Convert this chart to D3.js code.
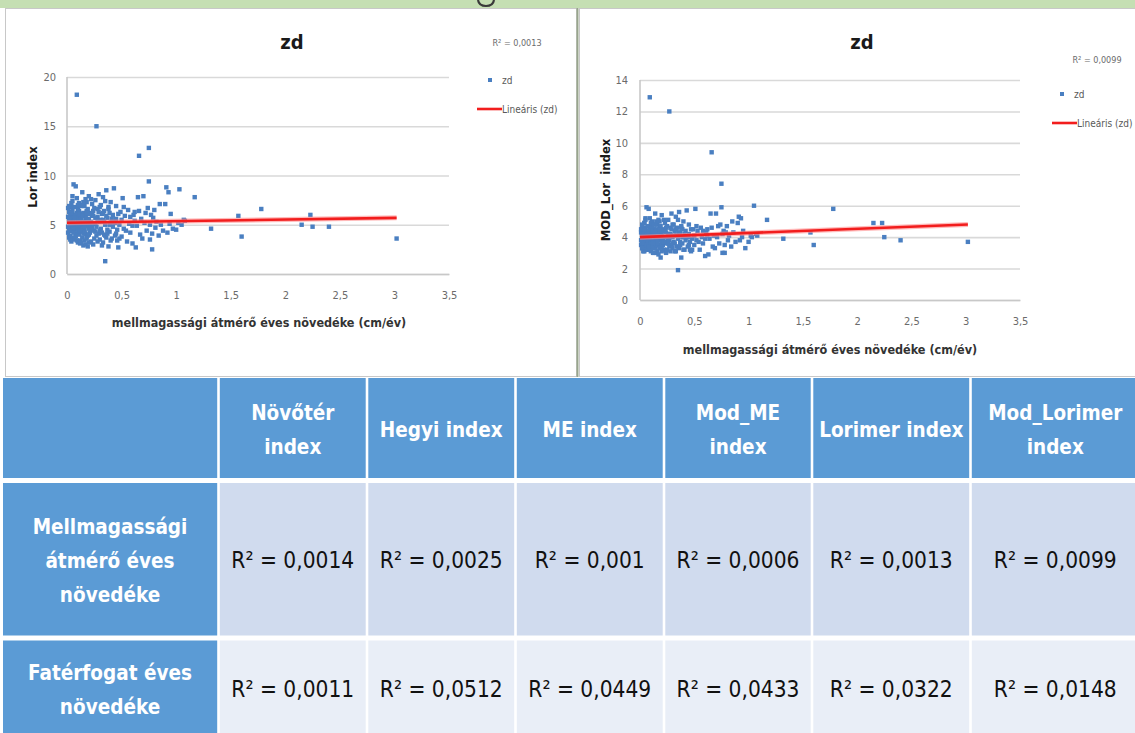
<!DOCTYPE html>
<html><head><meta charset="utf-8">
<script src="https://cdn.jsdelivr.net/npm/d3@7"></script>
<style>
html,body{margin:0;padding:0;background:#fff;overflow:hidden;}
svg{display:block;}
</style></head><body><svg id="c" width="1135" height="733"></svg>
<script>
// ---- scatter data (shared x: annual DBH increment, cm/yr) ----
const growth = [
 0.01,0.02,0.02,0.03,0.03,0.04,0.04,0.05,0.05,0.06,
 0.06,0.07,0.07,0.08,0.08,0.09,0.09,0.10,0.10,0.11,
 0.11,0.12,0.12,0.13,0.13,0.14,0.14,0.15,0.15,0.16,
 0.16,0.17,0.17,0.18,0.18,0.19,0.19,0.20,0.20,0.21,
 0.21,0.22,0.22,0.23,0.23,0.24,0.24,0.25,0.25,0.26,
 0.26,0.27,0.27,0.28,0.28,0.29,0.29,0.30,0.30,0.31,
 0.31,0.32,0.32,0.33,0.33,0.34,0.34,0.35,0.35,0.36,
 0.36,0.37,0.38,0.38,0.39,0.40,0.40,0.41,0.42,0.42,
 0.43,0.44,0.45,0.45,0.46,0.47,0.48,0.49,0.50,0.51,
 0.52,0.53,0.55,0.56,0.57,0.58,0.60,0.61,0.62,0.63,
 0.64,0.65,0.66,0.66,0.67,0.68,0.69,0.70,0.71,0.72,
 0.73,0.74,0.75,0.75,0.76,0.76,0.77,0.78,0.78,0.79,
 0.80,0.81,0.82,0.84,0.85,0.86,0.88,0.90,0.91,0.92,
 0.93,0.94,0.95,0.97,1.00,1.02,1.03,1.05,1.07,1.08,
 1.17,1.32,1.57,1.60,1.78,2.15,2.23,2.25,2.40,3.02,
 0.01,0.01,0.02,0.02,0.03,0.03,0.04,0.04,0.05,0.05,
 0.06,0.06,0.07,0.07,0.08,0.08,0.09,0.09,0.10,0.10,
 0.11,0.11,0.12,0.12,0.13,0.13,0.14,0.14,0.15,0.15,
 0.16,0.16,0.17,0.17,0.18,0.18,0.19,0.19,0.20,0.20,
 0.03,0.05,0.07,0.09,0.11,0.13,0.15,0.17,0.19,0.21,
 0.22,0.23,0.24,0.25,0.26,0.27,0.28,0.29,0.30,0.31,
 0.32,0.33,0.34,0.35,0.36,0.37,0.38,0.39,0.40,0.41,
 0.02,0.04,0.06,0.08,0.10,0.12,0.14,0.16,0.18,0.20,
 0.43,0.45,0.47,0.48,0.50,0.52,0.54,0.58,0.60,0.62,
 0.01,0.02,0.03,0.04,0.05,0.06,0.07,0.08,0.09,0.10,
 0.02,0.03,0.04,0.05,0.06,0.07,0.08,0.09,0.10,0.11,
 0.12,0.13,0.14,0.15,0.16,0.17,0.18,0.19,0.20,0.22,
 0.24,0.26,0.28,0.30,0.33,0.35,0.37,0.39,0.44,0.46
];
const lorIndex = [
 5.8,4.6,6.3,5.1,3.9,6.8,4.4,5.5,7.9,4.9,
 9.1,3.6,6.0,5.2,8.9,18.2,4.1,6.6,3.2,5.7,
 7.2,4.8,3.4,6.1,5.0,8.3,4.3,5.9,2.9,6.9,
 4.5,5.4,7.6,3.8,6.4,4.9,2.8,5.6,7.9,4.2,
 6.2,3.3,5.3,7.1,4.7,5.9,3.0,6.7,4.4,5.1,
 7.5,15.0,3.9,5.8,6.6,4.1,8.1,5.3,3.5,7.0,
 4.6,6.1,2.9,5.5,7.8,4.0,6.4,1.3,5.0,3.7,
 8.5,5.7,2.8,6.8,4.3,5.2,7.3,3.6,6.0,4.8,
 8.7,3.9,5.6,6.9,4.5,2.7,5.0,6.3,3.8,7.7,
 4.6,5.9,3.3,6.5,5.1,4.2,3.1,6.0,5.4,2.7,
 4.9,7.8,12.0,6.4,4.0,5.6,3.6,7.9,5.2,6.2,
 4.4,6.7,12.8,9.4,5.0,3.5,6.0,2.5,4.1,5.7,
 6.5,4.7,5.3,3.9,7.1,5.0,4.4,7.1,8.8,4.2,
 8.3,5.1,6.1,4.6,4.5,5.2,8.6,5.0,5.5,5.4,
 7.8,4.6,5.9,3.8,6.6,5.0,6.0,4.8,4.8,3.6,
 4.2,6.7,5.3,3.8,6.0,4.7,5.6,3.3,6.4,4.4,
 5.0,3.5,6.8,4.5,5.9,3.9,6.2,4.8,5.4,7.0,
 4.0,6.4,5.8,3.1,4.6,6.9,5.3,3.7,4.9,6.2,
 5.1,3.4,6.0,4.1,5.5,7.3,3.9,6.6,4.6,3.2,
 5.4,4.9,5.2,5.7,4.3,5.5,4.1,5.8,5.3,5.0,
 4.5,6.0,5.1,3.6,5.7,4.8,3.3,6.3,4.4,5.5,
 4.2,6.2,5.3,3.9,5.9,4.5,6.6,5.0,3.4,5.6,
 3.7,7.2,5.9,4.6,6.1,5.2,7.0,4.8,3.6,6.1,
 5.3,4.1,6.1,3.6,5.5,6.8,4.4,5.8,4.9,6.3,
 4.8,5.6,4.4,6.2,3.7,5.3,4.6,6.0,3.4,4.5,
 6.9,3.5,5.0,7.4,4.2,5.7,3.8,7.7,4.9,5.2,
 4.4,3.2,5.9,7.3,4.3,3.0,6.2,5.2,4.0,7.6,
 6.4,4.3,5.4,6.8,3.2,7.4,4.1,6.2,5.2,3.4
];
const modLorIndex = [
 4.3,3.7,4.6,4.0,3.4,4.9,3.6,4.1,5.2,3.8,
 5.9,3.2,4.4,3.9,5.8,12.9,3.5,4.7,3.1,4.2,
 5.0,3.8,3.3,4.5,3.9,5.5,3.6,4.3,3.0,4.8,
 3.7,4.0,5.1,3.4,4.6,3.8,2.7,4.2,5.4,3.5,
 4.5,3.2,4.0,4.9,3.7,4.3,3.0,4.7,3.6,3.9,
 5.1,12.0,3.4,4.2,4.6,3.5,5.5,4.0,3.3,4.8,
 3.7,4.4,3.1,4.1,5.3,3.4,4.6,1.9,3.9,3.3,
 5.6,4.3,2.7,4.7,3.6,4.0,5.0,3.2,4.4,3.8,
 5.7,3.4,4.2,4.8,3.7,3.1,3.9,4.5,3.5,5.8,
 3.8,4.4,3.2,4.6,4.0,3.6,2.8,4.3,4.1,2.9,
 3.9,5.5,9.4,4.6,3.4,4.1,3.3,5.5,4.0,4.7,
 3.6,4.8,7.4,5.9,4.2,3.0,4.4,3.0,3.5,4.3,
 4.7,3.8,4.1,3.4,5.0,4.3,3.7,4.9,5.3,3.8,
 5.2,4.0,4.4,3.3,3.7,4.1,4.0,6.0,4.2,4.1,
 5.1,3.9,4.3,3.5,5.8,4.9,4.9,4.0,3.8,3.7,
 3.5,4.5,4.0,3.3,4.3,3.7,4.1,3.1,4.6,3.6,
 3.9,3.2,4.7,3.6,4.2,3.4,4.5,3.8,4.0,4.9,
 3.4,4.6,4.3,3.0,3.7,4.8,4.0,3.3,3.8,4.5,
 3.9,3.1,4.4,3.5,4.1,5.0,3.4,4.7,3.7,3.1,
 4.1,3.8,4.0,4.3,3.6,4.2,3.5,4.3,4.0,3.9,
 3.7,4.4,4.0,3.2,4.2,3.8,3.1,4.5,3.6,4.1,
 3.6,4.5,4.1,3.4,4.3,3.7,4.6,4.0,3.2,4.2,
 3.3,4.9,4.4,3.7,4.4,4.1,4.8,3.8,3.3,4.4,
 4.0,3.5,4.5,3.2,4.1,4.7,3.7,4.4,3.9,4.5,
 3.8,4.2,3.6,4.5,3.3,4.0,3.7,4.4,3.2,3.6,
 4.8,3.1,3.9,5.1,3.5,4.2,3.4,5.2,3.9,4.0,
 3.6,3.0,4.3,5.0,3.6,2.9,4.5,4.0,3.4,5.1,
 4.6,3.6,4.1,4.8,3.1,5.1,3.5,4.5,4.0,3.2
];
// linear trend lines (Lineáris (zd))
const trendX = [0, 3.02];
const lorTrend = [5.2, 5.7];
const modLorTrend = [4.0, 4.8];
// ticks
const xTicks = [0, 0.5, 1, 1.5, 2, 2.5, 3, 3.5];
const lorTicks = [0, 5, 10, 15, 20];
const modLorTicks = [0, 2, 4, 6, 8, 10, 12, 14];
// table
const columnHeaders = [["Növőtér", "index"], ["Hegyi index"], ["ME index"], ["Mod_ME", "index"], ["Lorimer index"], ["Mod_Lorimer", "index"]];
const rowHeaders = [["Mellmagassági", "átmérő éves", "növedéke"], ["Fatérfogat éves", "növedéke"]];
const r2Diameter = ["0,0014", "0,0025", "0,001", "0,0006", "0,0013", "0,0099"];
const r2Volume = ["0,0011", "0,0512", "0,0449", "0,0433", "0,0322", "0,0148"];

const FONT = "'DejaVu Sans Condensed','Liberation Sans Narrow','DejaVu Sans',sans-serif";
const svg = d3.select("#c").attr("font-family", FONT).style("font-stretch", "condensed");
const fmt = d => String(d).replace(".", ",");

// background / frame
svg.append("rect").attr("x", 0).attr("y", 0).attr("width", 1135).attr("height", 733).attr("fill", "#fff");
svg.append("rect").attr("x", 0).attr("y", 0).attr("width", 1135).attr("height", 8).attr("fill", "#c5dfb3");
svg.append("path").attr("d", "M478,0 Q479,6 486,6 Q493,6 494,0").attr("fill", "none").attr("stroke", "#3a3a3a").attr("stroke-width", 2.2);
svg.append("rect").attr("x", 5.5).attr("y", 8.5).attr("width", 571).attr("height", 368).attr("fill", "#fff").attr("stroke", "#c8c8c8");
svg.append("rect").attr("x", 579.5).attr("y", 8.5).attr("width", 560).attr("height", 368).attr("fill", "#fff").attr("stroke", "#c8c8c8");
svg.append("line").attr("x1", 577.5).attr("x2", 577.5).attr("y1", 8).attr("y2", 377).attr("stroke", "#98a58c").attr("stroke-width", 2);

function drawChart(cfg) {
  const g = svg.append("g");
  const x = d3.scaleLinear().domain([0, 3.5]).range(cfg.xr);
  const y = d3.scaleLinear().domain([0, cfg.yMax]).range(cfg.yr);
  // gridlines
  g.append("g").attr("transform", `translate(${cfg.xr[0]},0)`)
    .call(d3.axisLeft(y).tickValues(cfg.yTicks).tickSize(-(cfg.xr[1] - cfg.xr[0])).tickFormat(""))
    .call(s => s.select(".domain").remove())
    .call(s => s.selectAll("line").attr("stroke", "#d9d9d9").attr("stroke-width", 1.6));
  // y axis line
  g.append("line").attr("x1", x(0)).attr("x2", x(0)).attr("y1", y(0)).attr("y2", y(cfg.yMax))
    .attr("stroke", "#c8c8c8").attr("stroke-width", 1.6);
  // y tick labels
  g.append("g").attr("transform", `translate(${cfg.xr[0]},0)`)
    .call(d3.axisLeft(y).tickValues(cfg.yTicks).tickSize(0).tickPadding(cfg.yPad).tickFormat(fmt))
    .call(s => s.select(".domain").remove())
    .attr("font-family", FONT).attr("font-size", 11)
    .call(s => s.selectAll("text").attr("fill", "#6b6b6b"));
  // x axis
  g.append("g").attr("transform", `translate(0,${cfg.yr[0]})`)
    .call(d3.axisBottom(x).tickValues(xTicks).tickSize(0).tickSizeOuter(0).tickPadding(cfg.xPad).tickFormat(fmt))
    .attr("font-family", FONT).attr("font-size", 11)
    .call(s => s.select(".domain").attr("stroke", "#c8c8c8").attr("stroke-width", 1.6))
    .call(s => s.selectAll("text").attr("fill", "#6b6b6b"));
  // points
  g.append("g").selectAll("rect").data(d3.range(growth.length)).join("rect")
    .attr("x", i => x(growth[i]) - 2.2).attr("y", i => y(cfg.values[i]) - 2.2)
    .attr("width", 4.4).attr("height", 4.4).attr("fill", "#4a7fc1");
  // trend line
  const line = d3.line().x(d => x(d[0])).y(d => y(d[1]));
  const tdata = trendX.map((t, i) => [t, cfg.trend[i]]);
  g.append("path").attr("d", line(tdata)).attr("fill", "none").attr("stroke", "#ff8c8c").attr("stroke-width", 5).attr("opacity", 0.6);
  g.append("path").attr("d", line(tdata)).attr("fill", "none").attr("stroke", "#f21d1d").attr("stroke-width", 2.6);
  // title
  g.append("text").attr("x", cfg.titleX).attr("y", 49).attr("text-anchor", "middle")
    .attr("font-size", 20).attr("font-weight", "bold").attr("fill", "#1a1a1a").text("zd");
  // R2
  g.append("text").attr("x", cfg.r2[0]).attr("y", cfg.r2[1]).attr("text-anchor", "middle")
    .attr("font-size", 9).attr("fill", "#6b6b6b").text(cfg.r2Text);
  // legend
  g.append("rect").attr("x", cfg.leg[0] - 2).attr("y", cfg.leg[1] - 2).attr("width", 4).attr("height", 4).attr("fill", "#4a7fc1");
  g.append("text").attr("x", cfg.leg[0] + 12).attr("y", cfg.leg[1] + 4).attr("font-size", 10).attr("fill", "#595959").text("zd");
  g.append("line").attr("x1", cfg.leg2[0]).attr("x2", cfg.leg2[0] + 25).attr("y1", cfg.leg2[1]).attr("y2", cfg.leg2[1])
    .attr("stroke", "#f21d1d").attr("stroke-width", 2.6);
  g.append("text").attr("x", cfg.leg2[0] + 25).attr("y", cfg.leg2[1] + 4).attr("font-size", 10).attr("fill", "#595959").text("Lineáris (zd)");
  // axis titles
  g.append("text").attr("x", cfg.xLab[0]).attr("y", cfg.xLab[1]).attr("text-anchor", "middle")
    .attr("font-size", 12.5).attr("font-weight", "bold").attr("fill", "#333").text("mellmagassági átmérő éves növedéke (cm/év)");
  g.append("text").attr("transform", `translate(${cfg.yLab[0]},${cfg.yLab[1]}) rotate(-90)`).attr("text-anchor", "middle")
    .attr("font-size", 13).attr("font-weight", "bold").attr("fill", "#1a1a1a").attr("xml:space", "preserve").text(cfg.yLabel);
}

drawChart({xr: [67, 449], yr: [274, 77], yMax: 20, yTicks: lorTicks, values: lorIndex, trend: lorTrend,
  yPad: 11, xPad: 17, titleX: 292, r2: [517, 46], r2Text: "R² = 0,0013", leg: [490, 80], leg2: [477, 109],
  xLab: [259, 327], yLab: [37, 177], yLabel: "Lor index"});
drawChart({xr: [640, 1020], yr: [300, 80], yMax: 14, yTicks: modLorTicks, values: modLorIndex, trend: modLorTrend,
  yPad: 12, xPad: 17, titleX: 862, r2: [1097, 63], r2Text: "R² = 0,0099", leg: [1062, 94], leg2: [1052, 123],
  xLab: [830, 354], yLab: [610, 190], yLabel: "MOD_Lor  index"});

// ---- table ----
const xEdges = [3, 218.5, 367, 515.5, 664, 812, 970.5, 1140];
const yEdges = [378, 480.5, 638, 745];
const tbl = svg.append("g");
const cells = [];
for (let r = 0; r < 3; r++) for (let c = 0; c < 7; c++) cells.push({r, c});
const fillOf = d => (d.r === 0 || d.c === 0) ? "#5b9bd5" : (d.r === 1 ? "#d0dbee" : "#e9eef7");
tbl.selectAll("rect").data(cells).join("rect")
  .attr("x", d => xEdges[d.c] + (d.c > 0 ? 1.3 : 0))
  .attr("y", d => yEdges[d.r] + (d.r > 0 ? 2.5 : 0))
  .attr("width", d => xEdges[d.c + 1] - xEdges[d.c] - (d.c > 0 ? 2.6 : 1.3))
  .attr("height", d => yEdges[d.r + 1] - yEdges[d.r] - (d.r > 0 ? 5 : 2.5))
  .attr("fill", fillOf);

function multiline(sel, lines, cx, cy, lh) {
  const t = sel.append("text").attr("text-anchor", "middle").attr("x", cx);
  lines.forEach((l, i) => t.append("tspan").attr("x", cx).attr("y", cy + (i - (lines.length - 1) / 2) * lh).text(l));
  return t;
}
const hdrY = 437, row1Y = 568, row2Y = 697;
columnHeaders.forEach((h, i) => {
  const cx = (xEdges[i + 1] + xEdges[i + 2]) / 2;
  multiline(tbl, h, cx, hdrY, 34).attr("fill", "#fff").attr("font-weight", "bold").attr("font-size", 20.5);
});
rowHeaders.forEach((h, i) => {
  const cy = i === 0 ? row1Y : row2Y;
  multiline(tbl, h, 110, cy, 34).attr("fill", "#fff").attr("font-weight", "bold").attr("font-size", 20.5);
});
[r2Diameter, r2Volume].forEach((vals, ri) => {
  tbl.append("g").selectAll("text").data(vals).join("text")
    .attr("x", (d, i) => (xEdges[i + 1] + xEdges[i + 2]) / 2)
    .attr("y", ri === 0 ? row1Y : row2Y)
    .attr("text-anchor", "middle").attr("font-size", 22.5).attr("fill", "#111")
    .text(d => "R² = " + d);
});
</script></body></html>
